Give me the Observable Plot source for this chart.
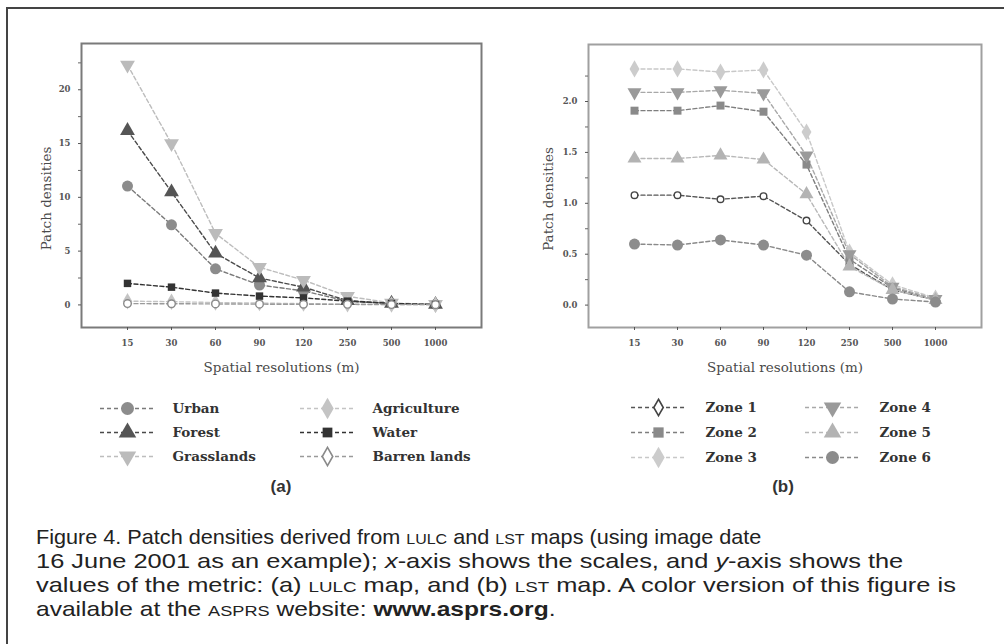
<!DOCTYPE html>
<html><head><meta charset="utf-8">
<script src="https://cdn.jsdelivr.net/npm/d3@7"></script>
<script src="https://cdn.jsdelivr.net/npm/@observablehq/plot@0.6"></script>
<style>
html,body{margin:0;padding:0;background:#fff;width:1004px;height:644px;overflow:hidden;}
#page{position:relative;width:1004px;height:644px;overflow:hidden;}
#border{position:absolute;left:6px;top:7px;width:1100px;height:700px;border:2px solid #444;}
.abs{position:absolute;}
.panelTag{position:absolute;width:60px;text-align:center;font-family:"Liberation Sans",Arial,sans-serif;font-weight:bold;font-size:17px;color:#333;line-height:20px;}
#caption{position:absolute;left:36px;top:525px;font-family:"Liberation Sans",Arial,sans-serif;font-size:21px;line-height:24px;color:#222;white-space:nowrap;}
#caption .ln{display:block;height:24px;transform-origin:0 0;}
#caption .sc{font-size:15.5px;}
</style></head><body>
<div id="page">
  <div id="border"></div>
  <div id="plotA" class="abs" style="left:0;top:0"></div>
  <div id="plotB" class="abs" style="left:500px;top:0"></div>
  <div id="legA" class="abs" style="left:0;top:390px"></div>
  <div id="legB" class="abs" style="left:500px;top:390px"></div>
  <div class="panelTag" style="left:251px;top:477px">(a)</div>
  <div class="panelTag" style="left:753px;top:477px">(b)</div>
  <div id="caption">
    <span class="ln" style="transform:scaleX(1.03)">Figure 4. Patch densities derived from <span class="sc">LULC</span> and <span class="sc">LST</span> maps (using image date</span>
    <span class="ln" style="transform:scaleX(1.21)">16 June 2001 as an example); <i>x</i>-axis shows the scales, and <i>y</i>-axis shows the</span>
    <span class="ln" style="transform:scaleX(1.21)">values of the metric: (a) <span class="sc">LULC</span> map, and (b) <span class="sc">LST</span> map. A color version of this figure is</span>
    <span class="ln" style="transform:scaleX(1.17)">available at the <span class="sc">ASPRS</span> website: <b>www.asprs.org</b>.</span>
  </div>
</div>
<script>
// ---------- data ----------
const resolutions = ["15", "30", "60", "90", "120", "250", "500", "1000"];

// (a) LULC map
const lulcNames = ["Urban", "Forest", "Grasslands", "Agriculture", "Water", "Barren lands"];
const urban       = [11.05, 7.45, 3.35, 1.85, 1.30, 0.35, 0.13, 0.04];
const forest      = [16.20, 10.50, 4.80, 2.50, 1.65, 0.40, 0.14, 0.04];
const grasslands  = [22.30, 15.00, 6.65, 3.50, 2.30, 0.80, 0.18, 0.05];
const agriculture = [0.35, 0.30, 0.22, 0.17, 0.12, 0.07, 0.04, 0.02];
const water       = [2.00, 1.65, 1.10, 0.82, 0.65, 0.35, 0.14, 0.04];
const barren      = [0.12, 0.11, 0.09, 0.07, 0.06, 0.05, 0.03, 0.02];
const lulcValues = [urban, forest, grasslands, agriculture, water, barren];
const lulcTicks = [0, 5, 10, 15, 20];
const lulcTickLabels = ["0", "5", "10", "15", "20"];
const lulcMinorTicks = [2.5, 7.5, 12.5, 17.5, 22.5];

// (b) LST map
const zoneNames = ["Zone 1", "Zone 2", "Zone 3", "Zone 4", "Zone 5", "Zone 6"];
const zone1 = [1.08, 1.08, 1.04, 1.07, 0.83, 0.40, 0.15, 0.05];
const zone2 = [1.91, 1.91, 1.96, 1.90, 1.38, 0.45, 0.17, 0.05];
const zone3 = [2.32, 2.32, 2.29, 2.31, 1.70, 0.52, 0.20, 0.07];
const zone4 = [2.09, 2.09, 2.11, 2.08, 1.47, 0.50, 0.18, 0.06];
const zone5 = [1.44, 1.44, 1.47, 1.43, 1.09, 0.38, 0.15, 0.05];
const zone6 = [0.60, 0.59, 0.64, 0.59, 0.49, 0.13, 0.06, 0.03];
const zoneValues = [zone1, zone2, zone3, zone4, zone5, zone6];
const zoneTicks = [0, 0.5, 1, 1.5, 2];
const zoneTickLabels = ["0.0", "0.5", "1.0", "1.5", "2.0"];
const zoneMinorTicks = [0.25, 0.75, 1.25, 1.75, 2.25];

const xLabel = "Spatial resolutions (m)";
const yLabel = "Patch densities";

// ---------- styles ----------
const lulcStyles = {
  "Urban":        {line: "#7a7a7a", symbol: "circle",   fill: "#8c8c8c", stroke: "none",    r: 5.5, rot: 0,   lr: 6.5},
  "Forest":       {line: "#4a4a4a", symbol: "triangle", fill: "#555555", stroke: "none",    r: 5.5, rot: 0,   lr: 6.5},
  "Grasslands":   {line: "#bdbdbd", symbol: "triangle", fill: "#bbbbbb", stroke: "none",    r: 5.5, rot: 180, lr: 6.5},
  "Agriculture":  {line: "#c4c4c4", symbol: "diamond",  fill: "#c4c4c4", stroke: "none",    r: 5,   rot: 0,   lr: 6.5},
  "Water":        {line: "#333333", symbol: "square",   fill: "#333333", stroke: "none",    r: 4.2, rot: 0,   lr: 5.5},
  "Barren lands": {line: "#9a9a9a", symbol: "circle",   fill: "#ffffff", stroke: "#8a8a8a", r: 3.8, rot: 0,   lr: 0}
};
const lulcLegendSymbols = {"Barren lands": {symbol: "diamond", lr: 5.5}};
const zoneStyles = {
  "Zone 1": {line: "#555555", symbol: "circle",   fill: "#ffffff", stroke: "#444444", r: 3.3, rot: 0,   lr: 0},
  "Zone 2": {line: "#7e7e7e", symbol: "square",   fill: "#8a8a8a", stroke: "none",    r: 4.5, rot: 0,   lr: 5.8},
  "Zone 3": {line: "#c8c8c8", symbol: "diamond",  fill: "#cccccc", stroke: "none",    r: 5.2, rot: 0,   lr: 6.5},
  "Zone 4": {line: "#a8a8a8", symbol: "triangle", fill: "#9a9a9a", stroke: "none",    r: 5.2, rot: 180, lr: 6.5},
  "Zone 5": {line: "#b8b8b8", symbol: "triangle", fill: "#b3b3b3", stroke: "none",    r: 5.2, rot: 0,   lr: 6.5},
  "Zone 6": {line: "#8a8a8a", symbol: "circle",   fill: "#8c8c8c", stroke: "none",    r: 5.5, rot: 0,   lr: 6.5}
};
const zoneLegendSymbols = {"Zone 1": {symbol: "diamond", lr: 5}};

const serif = "DejaVu Serif";

function panel(cfg) {
  const rows = [];
  cfg.names.forEach((n, i) => cfg.values[i].forEach((v, j) => rows.push({series: n, res: resolutions[j], value: v})));
  const marks = [
    Plot.frame({stroke: cfg.frameColor, strokeWidth: 2}),
    Plot.axisY(cfg.ticks, {tickSize: 3, tickPadding: 8, tickFormat: d => cfg.tickLabels[cfg.ticks.indexOf(d)],
      fontSize: 8.5, fontWeight: "bold", fontFamily: serif, color: "#555", label: null}),
    Plot.axisY(cfg.minor, {tickSize: 3, tickFormat: () => "", color: "#666", label: null}),
    Plot.axisX({tickSize: 3, tickPadding: 9, fontSize: 8.5, fontWeight: "bold", fontFamily: serif, color: "#555", label: null}),
    Plot.text([yLabel], {frameAnchor: "left", rotate: -90, dx: cfg.yLabelDx, dy: 13, textAnchor: "middle", lineAnchor: "middle",
      fontSize: 13.5, fontFamily: serif, fill: "#4a4a4a"}),
    Plot.text([xLabel], {frameAnchor: "bottom", dy: 40, textAnchor: "middle", lineAnchor: "middle",
      fontSize: 13.5, fontFamily: serif, fill: "#4a4a4a"})
  ];
  cfg.names.forEach(n => {
    const s = cfg.styles[n];
    marks.push(Plot.line(rows.filter(r => r.series === n), {x: "res", y: "value", stroke: s.line, strokeWidth: 1.4, strokeDasharray: "4,2.5"}));
  });
  cfg.names.forEach(n => {
    const s = cfg.styles[n];
    marks.push(Plot.dot(rows.filter(r => r.series === n), {x: "res", y: "value", symbol: s.symbol, r: s.r, rotate: s.rot,
      fill: s.fill, stroke: s.stroke, strokeWidth: 1.4}));
  });
  return Plot.plot({
    width: cfg.width, height: 380,
    marginLeft: cfg.marginLeft, marginRight: cfg.marginRight, marginTop: cfg.marginTop, marginBottom: 380 - 327,
    x: {type: "point", domain: resolutions, padding: 1, axis: null},
    y: {domain: cfg.yDomain, axis: null},
    style: {background: "transparent"},
    marks
  });
}

function legend(cfg) {
  const items = cfg.names.map((n, i) => ({name: n, col: Math.floor(i / 3), row: i % 3}));
  const marks = [];
  items.forEach(it => {
    const s = cfg.styles[it.name];
    marks.push(Plot.ruleY([it], {y: "row", x1: d => d.col - cfg.half, x2: d => d.col + cfg.half,
      stroke: s.line, strokeWidth: 1.6, strokeDasharray: "4,3"}));
  });
  items.forEach(it => {
    const s = Object.assign({}, cfg.styles[it.name], cfg.overrides[it.name] || {});
    marks.push(Plot.dot([it], {x: "col", y: "row", symbol: s.symbol, r: s.lr, rotate: s.rot,
      fill: s.fill, stroke: s.stroke, strokeWidth: 1.6}));
  });
  marks.push(Plot.text(items, {x: "col", y: "row", text: "name", dx: cfg.textDx, textAnchor: "start",
    fontFamily: serif, fontWeight: "bold", fontSize: 13.5, fill: "#333"}));
  return Plot.plot({
    width: cfg.width, height: 80, margin: 0,
    x: {domain: [0, 1], range: cfg.xRange, axis: null},
    y: {type: "point", domain: [0, 1, 2], range: cfg.yRange, padding: 0, axis: null},
    style: {background: "transparent"},
    marks
  });
}

document.getElementById("plotA").append(panel({
  names: lulcNames, values: lulcValues, styles: lulcStyles, yDomain: [-2.1, 24.3],
  ticks: lulcTicks, tickLabels: lulcTickLabels, minor: lulcMinorTicks,
  width: 500, marginLeft: 81, marginRight: 19, marginTop: 43, yLabelDx: -35, frameColor: "#7a7a7a"
}));
document.getElementById("plotB").append(panel({
  names: zoneNames, values: zoneValues, styles: zoneStyles, yDomain: [-0.22, 2.56],
  ticks: zoneTicks, tickLabels: zoneTickLabels, minor: zoneMinorTicks,
  width: 504, marginLeft: 88, marginRight: 23, marginTop: 44, yLabelDx: -40, frameColor: "#a0a0a0"
}));
document.getElementById("legA").append(legend({
  names: lulcNames, styles: lulcStyles, overrides: lulcLegendSymbols, width: 500, xRange: [127, 327], yRange: [17, 66], half: 0.135, textDx: 45
}));
document.getElementById("legB").append(legend({
  names: zoneNames, styles: zoneStyles, overrides: zoneLegendSymbols, width: 504, xRange: [158, 332], yRange: [16, 67], half: 0.155, textDx: 47
}));
</script>
</body></html>
